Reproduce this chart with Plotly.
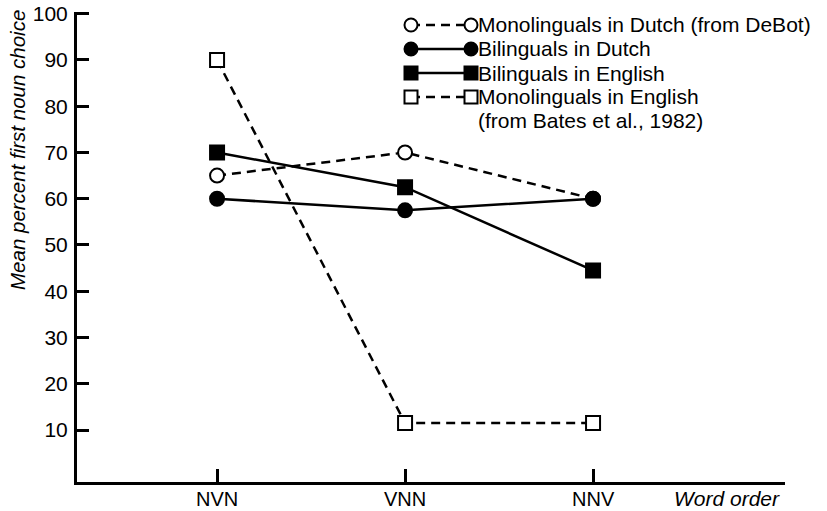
import plotly.graph_objects as go

# ---- data ----
categories = ["NVN", "VNN", "NNV"]
mono_dutch = [65, 70, 60]
bi_dutch = [60, 57.5, 60]
bi_english = [70, 62.5, 44.5]
mono_english = [90, 11.5, 11.5]
series_names = [
    "Monolinguals in Dutch (from DeBot)",
    "Bilinguals in Dutch",
    "Bilinguals in English",
    "Monolinguals in English",
]
series_note = "(from Bates et al., 1982)"
y_ticks = [10, 20, 30, 40, 50, 60, 70, 80, 90, 100]

FONT = "Liberation Sans, Arial, Helvetica, sans-serif"
W, H = 827, 511
L, R, T, B = 77, 42, 12, 29
PW, PH = W - L - R, H - T - B

def px_x(p):
    return (p - L) / PW

def px_y(p):
    return (H - B - p) / PH

styles = [
    dict(symbol="circle", dash="9px,6px", fill="white"),
    dict(symbol="circle", dash="solid", fill="black"),
    dict(symbol="square", dash="solid", fill="black"),
    dict(symbol="square", dash="9px,6px", fill="white"),
]
all_series = [mono_dutch, bi_dutch, bi_english, mono_english]

fig = go.Figure()
for vals, st, name in zip(all_series, styles, series_names):
    fig.add_trace(go.Scatter(
        x=categories, y=vals, mode="lines+markers", name=name,
        line=dict(color="black", width=2.5, dash=st["dash"]),
        marker=dict(symbol=st["symbol"], size=14,
                    color=st["fill"], line=dict(color="black", width=2)),
        cliponaxis=False, showlegend=False,
    ))

# ---- custom legend (glyphs with markers at both ends) ----
leg_rows = [25, 49, 73, 97]
leg_note_row = 121
leg_x0, leg_x1, leg_text_x = 411, 471, 477
for row, st, name in zip(leg_rows, styles, series_names):
    fig.add_trace(go.Scatter(
        x=[leg_x0, leg_x1], y=[row, row], xaxis="x2", yaxis="y2",
        mode="lines+markers",
        line=dict(color="black", width=2.5, dash=st["dash"]),
        marker=dict(symbol=st["symbol"], size=13, color=st["fill"],
                    line=dict(color="black", width=2)),
        cliponaxis=False, showlegend=False, hoverinfo="skip",
    ))
    fig.add_annotation(
        x=px_x(leg_text_x), y=px_y(row), xref="paper", yref="paper",
        text=name, showarrow=False, xanchor="left", yanchor="middle",
        align="left", font=dict(family=FONT, size=21, color="black"),
        borderpad=0,
    )
fig.add_annotation(
    x=px_x(leg_text_x), y=px_y(leg_note_row), xref="paper", yref="paper",
    text=series_note, showarrow=False, xanchor="left", yanchor="middle",
    align="left", font=dict(family=FONT, size=21, color="black"),
    borderpad=0,
)

# category labels (placed on the category scale, just under the axis)
for cat in categories:
    fig.add_annotation(
        x=cat, xref="x", y=px_y(499), yref="paper",
        text=cat, showarrow=False, xanchor="center", yanchor="middle",
        font=dict(family=FONT, size=20, color="black"), borderpad=0,
    )

# axis titles
fig.add_annotation(
    x=px_x(17), y=px_y(150), xref="paper", yref="paper",
    text="<i>Mean percent first noun choice</i>", textangle=-90,
    showarrow=False, xanchor="center", yanchor="middle",
    font=dict(family=FONT, size=20.5, color="black"),
)
fig.add_annotation(
    x=px_x(727), y=px_y(498), xref="paper", yref="paper",
    text="<i>Word order</i>", showarrow=False,
    xanchor="center", yanchor="middle",
    font=dict(family=FONT, size=21, color="black"),
)

fig.update_layout(
    width=W, height=H,
    margin=dict(l=L, r=R, t=T, b=B, pad=0, autoexpand=False),
    paper_bgcolor="white", plot_bgcolor="white",
    font=dict(family=FONT, size=21, color="black"),
    showlegend=False,
    xaxis=dict(
        type="category", categoryorder="array", categoryarray=categories,
        range=[-0.745, 3.021], showgrid=False, zeroline=False,
        showline=True, linecolor="black", linewidth=3,
        ticks="inside", ticklen=13, tickwidth=3, tickcolor="black",
        showticklabels=False, automargin=False,
    ),
    yaxis=dict(
        range=[-1.24, 100.37], tickvals=y_ticks,
        ticktext=[str(v) for v in y_ticks],
        showgrid=False, zeroline=False,
        showline=True, linecolor="black", linewidth=3,
        ticks="inside", ticklen=12, tickwidth=3, tickcolor="black",
        tickfont=dict(family=FONT, size=21, color="black"),
        ticklabelstandoff=2, automargin=False,
    ),
    xaxis2=dict(range=[L, W - R], overlaying="x", visible=False,
                fixedrange=True, automargin=False),
    yaxis2=dict(range=[H - B, T], overlaying="y", visible=False,
                fixedrange=True, automargin=False),
)

fig.write_html(
    "out.html",
    config={"displayModeBar": False},
    post_script="document.body.style.margin='0';document.body.style.overflow='hidden';",
)
